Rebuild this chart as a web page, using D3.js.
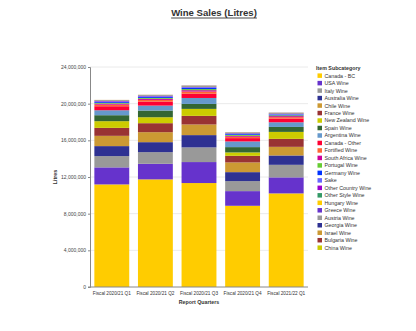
<!DOCTYPE html>
<html><head><meta charset="utf-8">
<script src="https://cdn.jsdelivr.net/npm/d3@7"></script>
<style>
html,body{margin:0;padding:0;background:#fff;}
svg{display:block;font-family:"Liberation Sans",Arial,sans-serif;}
</style></head>
<body>
<svg id="chart" width="416" height="331"></svg>
<script>
const categories = ["Fiscal 2020/21 Q1","Fiscal 2020/21 Q2","Fiscal 2020/21 Q3","Fiscal 2020/21 Q4","Fiscal 2021/22 Q1"];
const seriesNames = ["Canada - BC","USA Wine","Italy Wine","Australia Wine","Chile Wine","France Wine","New Zealand Wine","Spain Wine","Argentina Wine","Canada - Other","Fortified Wine","South Africa Wine","Portugal Wine","Germany Wine","Sake","Other Country Wine","Other Style Wine","Hungary Wine","Greece Wine","Austria Wine","Georgia Wine","Israel Wine","Bulgaria Wine","China Wine"];
const canadaBC     = [11190000,11740000,11340000, 8860000,10210000];
const usaWine      = [ 1860000, 1700000, 2290000, 1600000, 1750000];
const italyWine    = [ 1230000, 1270000, 1600000, 1090000, 1370000];
const australiaWine= [ 1090000, 1090000, 1340000,  980000, 1020000];
const chileWine    = [ 1120000, 1090000, 1160000, 1060000,  940000];
const franceWine   = [  870000,  980000,  940000,  720000,  870000];
const nzWine       = [  730000,  650000,  760000,  370000,  760000];
const spainWine    = [  650000,  730000,  540000,  580000,  540000];
const argentinaWine= [  540000,  540000,  650000,  620000,  510000];
const canadaOther  = [  440000,  440000,  470000,  360000,  400000];
const fortified    = [  170000,  180000,  230000,  150000,  160000];
const southAfrica  = [  110000,  120000,  150000,  100000,  110000];
const portugal     = [   90000,  100000,  120000,   90000,   90000];
const germany      = [   90000,  100000,  130000,   90000,   80000];
const sake         = [   60000,   70000,   80000,   60000,   60000];
const otherCountry = [   50000,   50000,   60000,   40000,   40000];
const otherStyle   = [   40000,   40000,   50000,   40000,   40000];
const hungary      = [   20000,   20000,   20000,   20000,   20000];
const greece       = [   20000,   20000,   20000,   20000,   20000];
const austria      = [   10000,   10000,   10000,   10000,   10000];
const georgia      = [   10000,   10000,   10000,   10000,   10000];
const israel       = [   10000,   10000,   10000,   10000,   10000];
const bulgaria     = [    5000,    5000,    5000,    5000,    5000];
const china        = [    5000,    5000,    5000,    5000,    5000];
const yTicks = [0,4000000,8000000,12000000,16000000,20000000,24000000];
const colors = ["#ffcc00","#6633cc","#999999","#2e3192","#cc9933","#993333","#cccc00","#336633","#6699cc","#ff0033","#ff6633","#cc0099","#66cc33","#0033ff","#6666ff","#9900cc","#339966","#ffcc00","#6633cc","#999999","#2e3192","#cc9933","#993333","#cccc00"];

const seriesValues = [canadaBC,usaWine,italyWine,australiaWine,chileWine,franceWine,nzWine,spainWine,argentinaWine,canadaOther,fortified,southAfrica,portugal,germany,sake,otherCountry,otherStyle,hungary,greece,austria,georgia,israel,bulgaria,china];
const table = categories.map((c,i)=>{const o={cat:c}; seriesNames.forEach((s,j)=>o[s]=seriesValues[j][i]); return o;});

const svg = d3.select("#chart");
const m = {l:90, r:308, t:67, b:287};
const x = d3.scaleBand().domain(categories).range([m.l, m.r]).paddingInner(0.2).paddingOuter(0.1);
const y = d3.scaleLinear().domain([0,24000000]).range([m.b, m.t]);
const color = d3.scaleOrdinal().domain(seriesNames).range(colors);

// title
const title = svg.append("text").attr("x",214).attr("y",16).attr("text-anchor","middle")
  .attr("font-size",9.6).attr("font-weight","bold").attr("fill","#333").text("Wine Sales (Litres)");
const tb = title.node().getBBox();
svg.append("line").attr("x1",tb.x).attr("x2",tb.x+tb.width).attr("y1",18).attr("y2",18).attr("stroke","#333").attr("stroke-width",0.9);

// grid
svg.append("g").selectAll("line").data(yTicks.slice(1)).join("line")
  .attr("x1",m.l).attr("x2",m.r).attr("y1",d=>y(d)).attr("y2",d=>y(d))
  .attr("stroke","#e4e4e4").attr("stroke-width",0.8);

// bars
const stack = d3.stack().keys(seriesNames)(table);
svg.append("g").selectAll("g").data(stack).join("g").attr("fill",d=>color(d.key))
  .selectAll("rect").data(d=>d).join("rect")
  .attr("x",d=>x(d.data.cat)).attr("width",x.bandwidth())
  .attr("y",d=>y(d[1])).attr("height",d=>Math.max(0,y(d[0])-y(d[1])));

// axes
const yAxis = svg.append("g").attr("transform",`translate(${m.l},0)`)
  .call(d3.axisLeft(y).tickValues(yTicks).tickFormat(d3.format(",")).tickSize(2).tickPadding(2));
yAxis.select(".domain").attr("stroke","#888");
yAxis.selectAll(".tick line").attr("stroke","#888");
yAxis.selectAll("text").attr("font-size",5).attr("fill","#444").attr("font-family","Liberation Sans, Arial, sans-serif");

const xAxis = svg.append("g").attr("transform",`translate(0,${m.b})`)
  .call(d3.axisBottom(x).tickSize(0).tickPadding(5));
xAxis.select(".domain").attr("stroke","#888").attr("d",`M${m.l-2},0H${m.r}`);
xAxis.selectAll("text").attr("font-size",4.7).attr("fill","#333").attr("font-family","Liberation Sans, Arial, sans-serif");

svg.append("text").attr("x",199).attr("y",304).attr("text-anchor","middle")
  .attr("font-size",5.3).attr("font-weight","bold").attr("fill","#333").text("Report Quarters");
svg.append("text").attr("transform","translate(57,177) rotate(-90)").attr("text-anchor","middle")
  .attr("font-size",5.3).attr("font-weight","bold").attr("fill","#333").text("Litres");

// legend
const lg = svg.append("g");
lg.append("text").attr("x",316).attr("y",69.5).attr("font-size",5.3).attr("font-weight","bold").attr("fill","#333").text("Item  Subcategory");
const items = lg.selectAll("g.it").data(seriesNames).join("g").attr("class","it")
  .attr("transform",(d,i)=>`translate(317.5,${75.7+i*7.48})`);
items.append("rect").attr("x",0).attr("y",-2.3).attr("width",4.5).attr("height",4.5).attr("fill",d=>color(d));
items.append("text").attr("x",7).attr("y",1.9).attr("font-size",5.3).attr("fill","#333").text(d=>d);
</script>
</body></html>
